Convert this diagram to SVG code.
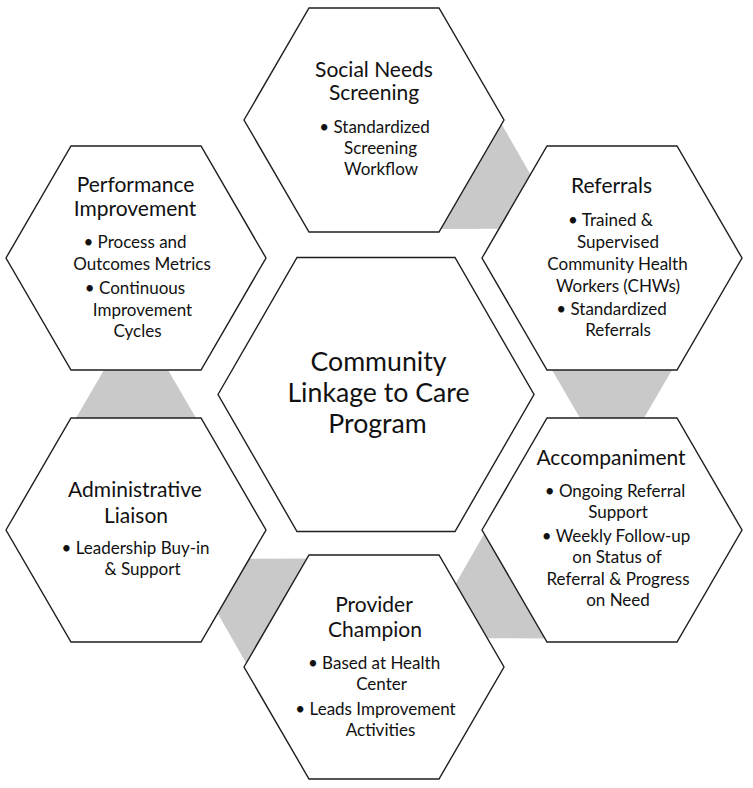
<svg xmlns="http://www.w3.org/2000/svg" width="753" height="788" viewBox="0 0 753 788">
<style>
.hex{fill:#fff;stroke:#1e1e1e;stroke-width:1.4}
.con{fill:#c9c9c9;stroke:none}
text{font-family:Lato,"Open Sans","Liberation Sans",sans-serif;fill:#111;text-anchor:middle}
.t{font-size:21px}
.b{font-size:17px}
.c{font-size:26.7px}
</style>
<rect width="753" height="788" fill="#fff"/>
<g id="connectors">
<polygon class="con" transform="translate(493,189) rotate(30)" points="-28,-62.3 28,-29.7 28,29.7 -28,62.3"/>
<polygon class="con" transform="translate(612,394) rotate(90)" points="-28,-62.3 28,-29.7 28,29.7 -28,62.3"/>
<polygon class="con" transform="translate(493,598.5) rotate(150)" points="-28,-62.3 28,-29.7 28,29.7 -28,62.3"/>
<polygon class="con" transform="translate(255,598.5) rotate(210)" points="-28,-62.3 28,-29.7 28,29.7 -28,62.3"/>
<polygon class="con" transform="translate(136,394) rotate(270)" points="-28,-62.3 28,-29.7 28,29.7 -28,62.3"/>
</g>
<g id="center">
<polygon class="hex" points="218,394.5 297,257.5 455,257.5 534,394.5 455,531.5 297,531.5"/>
<text class="c" x="378.5" y="371">Community</text>
<text class="c" x="378.5" y="402">Linkage to Care</text>
<text class="c" x="377.5" y="433">Program</text>
</g>
<g id="social-needs-screening">
<polygon class="hex" points="244,120 309,8 439,8 504,120 439,232 309,232"/>
<text class="t" x="374" y="77">Social Needs</text>
<text class="t" x="374" y="100">Screening</text>
<text class="b" x="374.5" y="133">• Standardized</text>
<text class="b" x="380.5" y="154">Screening</text>
<text class="b" x="381" y="175">Workflow</text>
</g>
<g id="referrals">
<polygon class="hex" points="482,258 547,146 677,146 742,258 677,370 547,370"/>
<text class="t" x="611.5" y="193">Referrals</text>
<text class="b" x="610.5" y="226">• Trained &amp;</text>
<text class="b" x="618" y="248">Supervised</text>
<text class="b" x="617.5" y="270">Community Health</text>
<text class="b" x="618" y="292">Workers (CHWs)</text>
<text class="b" x="611.5" y="315">• Standardized</text>
<text class="b" x="618" y="336">Referrals</text>
</g>
<g id="accompaniment">
<polygon class="hex" points="482,530 547,418 677,418 742,530 677,642 547,642"/>
<text class="t" x="611" y="465">Accompaniment</text>
<text class="b" x="615" y="497">• Ongoing Referral</text>
<text class="b" x="618" y="518">Support</text>
<text class="b" x="616" y="542">• Weekly Follow-up</text>
<text class="b" x="617" y="563">on Status of</text>
<text class="b" x="618" y="585">Referral &amp; Progress</text>
<text class="b" x="618" y="606">on Need</text>
</g>
<g id="provider-champion">
<polygon class="hex" points="244,667 309,555 439,555 504,667 439,779 309,779"/>
<text class="t" x="374" y="612">Provider</text>
<text class="t" x="375" y="637">Champion</text>
<text class="b" x="374" y="669">• Based at Health</text>
<text class="b" x="381.5" y="690">Center</text>
<text class="b" x="375.5" y="715">• Leads Improvement</text>
<text class="b" x="380.5" y="736">Activities</text>
</g>
<g id="administrative-liaison">
<polygon class="hex" points="6,530 71,418 201,418 266,530 201,642 71,642"/>
<text class="t" x="135" y="497">Administrative</text>
<text class="t" x="136" y="523">Liaison</text>
<text class="b" x="135.5" y="554">• Leadership Buy-in</text>
<text class="b" x="142.5" y="575">&amp; Support</text>
</g>
<g id="performance-improvement">
<polygon class="hex" points="6,258 71,146 201,146 266,258 201,370 71,370"/>
<text class="t" x="135.5" y="192">Performance</text>
<text class="t" x="135" y="216">Improvement</text>
<text class="b" x="135" y="248">• Process and</text>
<text class="b" x="142" y="270">Outcomes Metrics</text>
<text class="b" x="135" y="294">• Continuous</text>
<text class="b" x="142.5" y="316">Improvement</text>
<text class="b" x="137.5" y="337">Cycles</text>
</g>
</svg>
